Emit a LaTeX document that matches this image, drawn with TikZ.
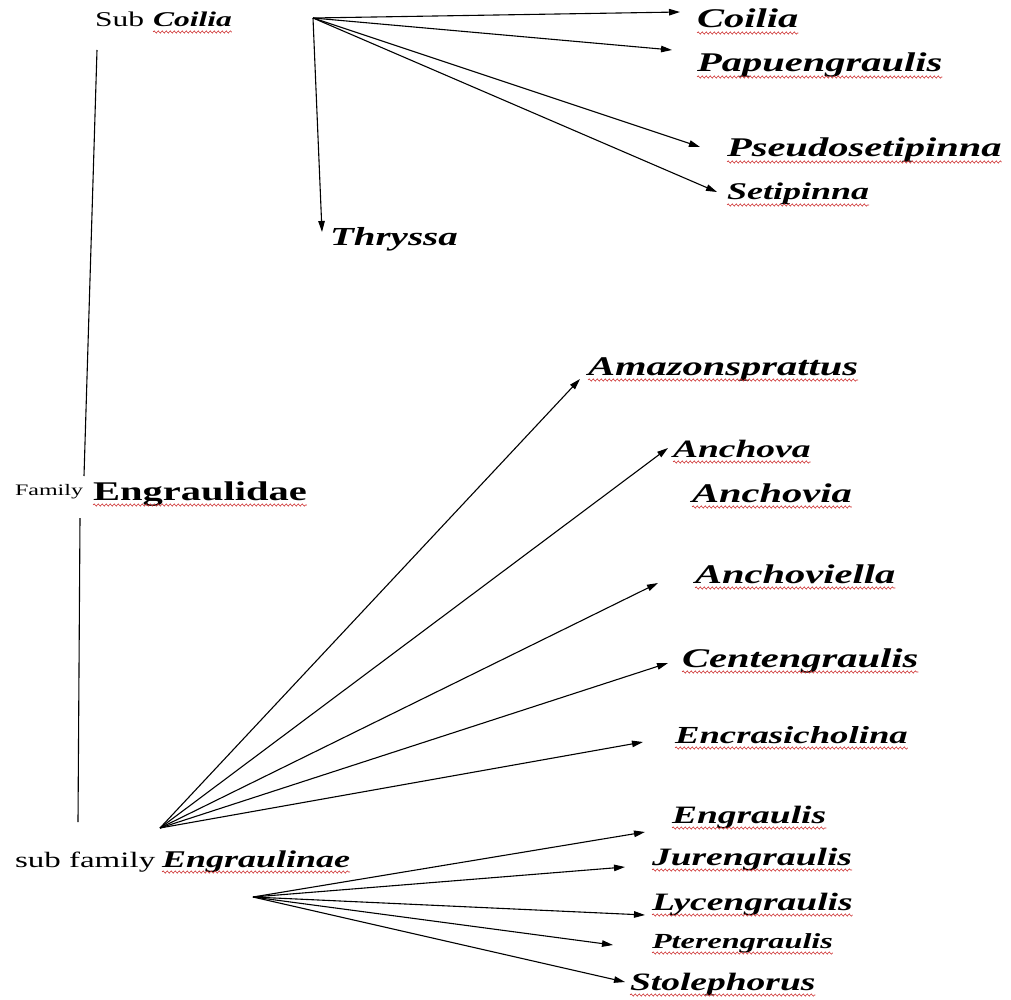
\documentclass[tikz,border=0pt]{standalone}
\usepackage{fontspec}
\setmainfont{Liberation Serif}[FakeStretch=1.5]
\usetikzlibrary{positioning, arrows.meta, decorations.pathmorphing}
\tikzstyle{chart} = [x = 1pt, y = -1pt]
\definecolor{spellColor}{RGB}{205,45,45}
\tikzstyle{labelText} = [inner sep = 0, outer sep = 0, anchor = base west]
\tikzstyle{fanArrow} = [-{Triangle[length = 11pt, width = 6.5pt]}, line width = 1.1pt]
\tikzstyle{stemLine} = [line width = 1.1pt]
\tikzstyle{spellLine} = [color = spellColor, line width = .6pt, decorate, decoration = {snake, amplitude = 1.1pt, segment length = 4pt}]
\newcommand{\plainFont}[1]{\fontsize{#1}{#1}\selectfont}
\newcommand{\genusFont}[1]{\fontsize{#1}{#1}\selectfont\bfseries\itshape}
\newcommand{\genusName}[5]{\node [labelText, font = \genusFont{#4}] (#1) at (#2,#3) {#5};}
\newcommand{\genusArrow}[4]{\draw [fanArrow] (#1) -- ([shift = {(#3,#4)}]#2.base west);}
\newcommand{\spellMark}[1]{\draw [spellLine] ([shift = {(0,5)}]#1.base west) -- ([shift = {(0,5)}]#1.base east);}

\begin{document}
\begin{tikzpicture}[chart]
        \useasboundingbox (0,0) rectangle (1011,1000);

        % ranks
        \node [labelText, font = \plainFont{21}] (subWord) at (95,27) {Sub};
        \node [labelText, font = \genusFont{21}, base right = 9pt of subWord] (subCoilia) {Coilia};
        \node [labelText, font = \plainFont{16}] (familyWord) at (15,495) {Family};
        \node [labelText, font = \fontsize{27}{27}\selectfont\bfseries] (familyName) at (93,500) {Engraulidae};
        \node [labelText, font = \plainFont{22}] (subfamWord) at (15,867) {sub family};
        \node [labelText, font = \genusFont{24}] (subfamName) at (162,867) {Engraulinae};

        \draw [stemLine] ([shift = {(2,23)}]subWord.base west) -- ([shift = {(-9,-24)}]familyName.base west);
        \draw [stemLine] ([shift = {(-13,18)}]familyName.base west) -- ([shift = {(63,-45)}]subfamWord.base west);

        % genera of Coilia
        \coordinate (fanCoilia) at (313,18);
        \genusName{coilia}{697}{28}{27}{Coilia}
        \genusName{papuengraulis}{697}{72}{27}{Papuengraulis}
        \genusName{pseudosetipinna}{727}{157}{27}{Pseudosetipinna}
        \genusName{setipinna}{727}{200}{24}{Setipinna}
        \genusName{thryssa}{330}{245}{26}{Thryssa}
        \genusArrow{fanCoilia}{coilia}{-17}{-16}
        \genusArrow{fanCoilia}{papuengraulis}{-25}{-22}
        \genusArrow{fanCoilia}{pseudosetipinna}{-27}{-10}
        \genusArrow{fanCoilia}{setipinna}{-10}{-8}
        \genusArrow{fanCoilia}{thryssa}{-8}{-13}

        % genera of Engraulinae
        \coordinate (fanUpper) at (160,828);
        \coordinate (fanLower) at (253,897);
        \genusName{amazonsprattus}{588}{375}{27}{Amazonsprattus}
        \genusName{anchova}{673}{457}{25}{Anchova}
        \genusName{anchovia}{692}{502}{27}{Anchovia}
        \genusName{anchoviella}{695}{583}{27}{Anchoviella}
        \genusName{centengraulis}{682}{667}{27}{Centengraulis}
        \genusName{encrasicholina}{675}{743}{24.5}{Encrasicholina}
        \genusName{engraulis}{672}{823}{25}{Engraulis}
        \genusName{jurengraulis}{652}{865}{25}{Jurengraulis}
        \genusName{lycengraulis}{652}{910}{25}{Lycengraulis}
        \genusName{pterengraulis}{652}{948}{21.5}{Pterengraulis}
        \genusName{stolephorus}{630}{990}{25}{Stolephorus}
        \genusArrow{fanUpper}{amazonsprattus}{-8}{4}
        \genusArrow{fanUpper}{anchova}{-5}{-9}
        \genusArrow{fanUpper}{anchoviella}{-37}{0}
        \genusArrow{fanUpper}{centengraulis}{-14}{-4}
        \genusArrow{fanUpper}{encrasicholina}{-32}{-1}
        \genusArrow{fanLower}{engraulis}{-27}{9}
        \genusArrow{fanLower}{jurengraulis}{-27}{2}
        \genusArrow{fanLower}{lycengraulis}{-7}{5}
        \genusArrow{fanLower}{pterengraulis}{-39}{-3}
        \genusArrow{fanLower}{stolephorus}{-5}{-8}

        % spelling marks
        \foreach \word in {subCoilia, familyName, subfamName, coilia, papuengraulis, pseudosetipinna, setipinna,
          amazonsprattus, anchova, anchovia, anchoviella, centengraulis, encrasicholina,
          engraulis, jurengraulis, lycengraulis, pterengraulis, stolephorus} {
          \spellMark{\word}
        }
      \end{tikzpicture}
\end{document}
